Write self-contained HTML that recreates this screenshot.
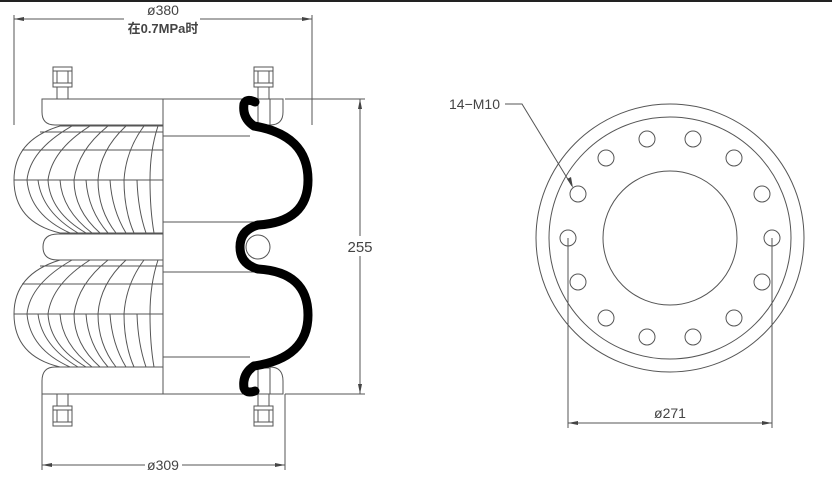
<!DOCTYPE html>
<html><head><meta charset="utf-8"><style>
html,body{margin:0;padding:0;background:#fff;}
svg{display:block;}
text{font-family:"Liberation Sans","Noto Sans CJK SC",sans-serif;fill:#444;}
</style></head><body>
<svg width="832" height="481" viewBox="0 0 832 481" xmlns="http://www.w3.org/2000/svg">
<rect x="0" y="0" width="832" height="2" fill="#222"/>
<g fill="none" stroke="#555" stroke-width="1">
<line x1="14" y1="19" x2="124" y2="19"/><line x1="200" y1="19" x2="312" y2="19"/>
<line x1="14" y1="15" x2="14" y2="125"/><line x1="312" y1="15" x2="312" y2="125"/>
<line x1="285" y1="99" x2="365" y2="99"/><line x1="285" y1="394" x2="365" y2="394"/>
<line x1="360" y1="99" x2="360" y2="236"/><line x1="360" y1="256" x2="360" y2="394"/>
<line x1="42" y1="394" x2="42" y2="470"/><line x1="285" y1="394" x2="285" y2="470"/>
<line x1="42" y1="465" x2="145" y2="465"/><line x1="182" y1="465" x2="285" y2="465"/>
<path d="M163,99 H42 V112 Q42,125 55,125 H163"/>
<path d="M163,99 H283 V112 Q283,125 270,125"/>
<path d="M163,394 H42 V381 Q42,367 55,367 H163"/>
<path d="M163,394 H283 V381 Q283,367 270,367"/>
<line x1="163" y1="99" x2="163" y2="394"/>
<path d="M163,234 H58 Q43,234 43,247 Q43,260 58,260 H163"/>
<circle cx="258" cy="247" r="12"/>
<line x1="163" y1="136" x2="250" y2="136"/><line x1="163" y1="222" x2="262" y2="222"/>
<line x1="163" y1="272" x2="262" y2="272"/><line x1="163" y1="357" x2="250" y2="357"/>
<g id="bel">
<path d="M163,126 H60 Q14,140 14,180 Q14,222 60,233 H163"/>
<line x1="40" y1="132" x2="163" y2="132"/><line x1="22" y1="150" x2="163" y2="150"/><line x1="14" y1="180" x2="163" y2="180"/>
<path d="M72,126 Q30,150 27,180 Q30,215 70,233"/>
<path d="M90,126 Q52,150 48,180 Q50,212 86,233"/>
<path d="M108,126 Q78,150 74,180 Q74,210 100,233"/>
<path d="M126,126 Q100,150 98,180 Q98,210 116,233"/>
<path d="M144,126 Q126,150 124,180 Q124,210 134,233"/>
<path d="M158,126 Q150,150 150,180 Q150,210 154,233"/>
<path d="M38,180 Q42,212 78,233"/><path d="M60,180 Q62,210 92,233"/><path d="M86,180 Q88,210 108,233"/><path d="M110,180 Q112,210 126,233"/><path d="M137,180 Q138,210 146,233"/>
</g>
<use href="#bel" transform="translate(0,134)"/>
<g id="bt"><rect x="53" y="67" width="19" height="20"/><line x1="53" y1="71" x2="72" y2="71"/><line x1="53" y1="83" x2="72" y2="83"/><line x1="57" y1="71" x2="57" y2="83"/><line x1="68" y1="71" x2="68" y2="83"/><rect x="57" y="87" width="11" height="12"/></g>
<g transform="translate(201,0)"><use href="#bt"/><rect x="57" y="99" width="12" height="26"/></g>
<g transform="translate(0,493) scale(1,-1)"><use href="#bt"/></g>
<g transform="translate(201,493) scale(1,-1)"><use href="#bt"/><rect x="57" y="99" width="12" height="26"/></g>
<circle cx="670" cy="238" r="134"/><circle cx="670" cy="238" r="121"/><circle cx="670" cy="238" r="67"/>
<line x1="568" y1="238" x2="568" y2="428"/><line x1="772" y1="238" x2="772" y2="428"/>
<line x1="568" y1="423" x2="772" y2="423"/>
<polyline points="505,104 522,104 572,186"/>
</g>
<g fill="none" stroke="#555">
<circle cx="772" cy="238" r="8"/><circle cx="762" cy="282" r="8"/><circle cx="734" cy="318" r="8"/><circle cx="693" cy="337" r="8"/><circle cx="647" cy="337" r="8"/><circle cx="606" cy="318" r="8"/><circle cx="578" cy="282" r="8"/><circle cx="568" cy="238" r="8"/><circle cx="578" cy="194" r="8"/><circle cx="606" cy="158" r="8"/><circle cx="647" cy="139" r="8"/><circle cx="693" cy="139" r="8"/><circle cx="734" cy="158" r="8"/><circle cx="762" cy="194" r="8"/>
</g>
<g fill="#444">
<polygon points="14,19 24,17 24,21"/><polygon points="312,19 302,17 302,21"/>
<polygon points="360,99 358,109 362,109"/><polygon points="360,394 358,384 362,384"/>
<polygon points="42,465 52,463 52,467"/><polygon points="285,465 275,463 275,467"/>
<polygon points="568,423 578,421 578,425"/><polygon points="772,423 762,421 762,425"/>
<polygon points="573,188 567,179 571,177"/>
</g>
<path d="M255,102 Q246,98 244,104 Q242,118 254,126 Q308,135 308,180 Q308,222 258,225 Q240,230 240,247 Q240,264 258,269 Q308,272 308,315 Q308,358 254,366 Q242,374 244,388 Q246,394 255,391" fill="none" stroke="#000" stroke-width="9" stroke-linecap="round"/>
<text x="163" y="15" font-size="14" text-anchor="middle">ø380</text>
<text x="163" y="33" font-size="13" text-anchor="middle" font-weight="bold" fill="#222">在0.7MPa时</text>
<text x="360" y="252" font-size="15" text-anchor="middle" fill="#444" style="paint-order:stroke" stroke="#fff" stroke-width="4">255</text>
<text x="163" y="470" font-size="14" text-anchor="middle">ø309</text>
<text x="670" y="418" font-size="14" text-anchor="middle">ø271</text>
<text x="449" y="109" font-size="14">14−M10</text>
</svg>
</body></html>
